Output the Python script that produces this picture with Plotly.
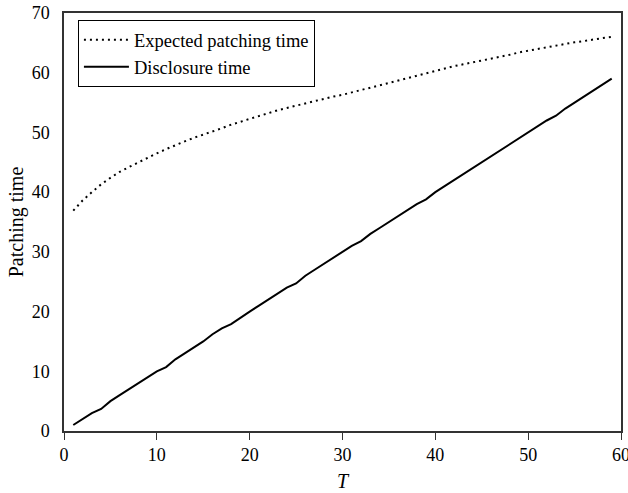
import plotly.graph_objects as go

T = list(range(1, 60))
expected_patching = [
    36.9, 38.6, 40.0, 41.3, 42.4, 43.4, 44.2, 45.0, 45.8, 46.5,
    47.2, 47.9, 48.5, 49.1, 49.6, 50.2, 50.7, 51.3, 51.8, 52.3,
    52.8, 53.2, 53.7, 54.1, 54.5, 54.9, 55.3, 55.7, 56.0, 56.3,
    56.7, 57.1, 57.5, 57.9, 58.3, 58.7, 59.1, 59.5, 60.0, 60.4,
    60.8, 61.1, 61.4, 61.7, 62.1, 62.4, 62.7, 63.0, 63.4, 63.7,
    64.0, 64.3, 64.6, 64.8, 65.1, 65.3, 65.6, 65.8, 66.0,
]
disclosure = [
    1.0, 2.0, 3.0, 3.7, 5.0, 6.0, 7.0, 8.0, 9.0, 10.0,
    10.7, 12.0, 13.0, 14.0, 15.0, 16.2, 17.2, 17.9, 19.0, 20.0,
    21.0, 22.0, 23.0, 24.0, 24.7, 26.0, 27.0, 28.0, 29.0, 30.0,
    31.0, 31.8, 33.0, 34.0, 35.0, 36.0, 37.0, 38.0, 38.8, 40.0,
    41.0, 42.0, 43.0, 44.0, 45.0, 45.9, 47.0, 48.0, 49.0, 50.0,
    51.0, 52.0, 52.8, 54.0, 55.0, 56.0, 57.0, 58.0, 59.0,
]
x_ticks = [0, 10, 20, 30, 40, 50, 60]
y_ticks = [0, 10, 20, 30, 40, 50, 60, 70]

SERIF = "Liberation Serif"

fig = go.Figure()
fig.add_trace(go.Scatter(x=T, y=expected_patching, mode="lines",
                         name="Expected patching time",
                         line=dict(color="black", width=2, dash="2px,4px")))
fig.add_trace(go.Scatter(x=T, y=disclosure, mode="lines",
                         name="Disclosure time",
                         line=dict(color="black", width=2)))

fig.update_layout(
    width=628, height=493,
    margin=dict(l=64, r=7, t=13, b=62),
    paper_bgcolor="white", plot_bgcolor="white",
    font=dict(family=SERIF, size=18, color="black"),
    showlegend=True,
    legend=dict(x=0.025, y=0.983, xanchor="left", yanchor="top",
                bordercolor="black", borderwidth=1, bgcolor="white",
                font=dict(family=SERIF, size=18.5, color="black"),
                itemwidth=45, tracegroupgap=0),
    xaxis=dict(range=[0, 60], tickvals=x_ticks, showgrid=False, zeroline=False,
               showline=True, mirror=True, linecolor="#333", linewidth=1.5,
               ticks="outside", ticklen=7, tickcolor="#333", automargin=False,
               ticklabeloverflow="allow",
               title=dict(text="<i>T</i>", font=dict(family=SERIF, size=20), standoff=10)),
    yaxis=dict(range=[0, 70], tickvals=y_ticks, showgrid=False, zeroline=False,
               showline=True, mirror=True, linecolor="#333", linewidth=1.5,
               ticks="", ticklabelstandoff=9, automargin=False,
               ticklabeloverflow="allow",
               title=dict(text="Patching time", font=dict(family=SERIF, size=20), standoff=3)),
)
fig.write_html("out.html")
